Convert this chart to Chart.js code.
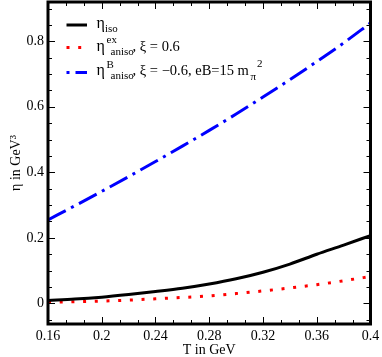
<!DOCTYPE html>
<html>
<head>
<meta charset="utf-8">
<script src="https://cdn.jsdelivr.net/npm/chart.js@4"></script>
<style>
  html, body { margin: 0; padding: 0; background: #fff; }
  canvas { display: block; }
</style>
</head>
<body>
<canvas id="miGrafico" width="382" height="357"></canvas>
<script>
// datos
var temperaturas = [0.16, 0.18, 0.20, 0.22, 0.24, 0.26, 0.28, 0.30, 0.32, 0.34, 0.36, 0.38, 0.40];
var etaIso = [0.009, 0.013, 0.019, 0.027, 0.036, 0.046, 0.059, 0.075, 0.095, 0.120, 0.150, 0.178, 0.207];
var etaEx = [0.003, 0.005, 0.007, 0.010, 0.014, 0.018, 0.023, 0.030, 0.038, 0.047, 0.057, 0.069, 0.082];
var etaB = [0.255, 0.298, 0.342, 0.387, 0.433, 0.480, 0.528, 0.578, 0.630, 0.683, 0.738, 0.795, 0.856];
var ticksX = [0.16, 0.2, 0.24, 0.28, 0.32, 0.36, 0.4];
var ticksY = [0, 0.2, 0.4, 0.6, 0.8];

var fuente = "'Liberation Serif', 'DejaVu Serif', serif";

function puntos(vals) {
    return temperaturas.map(function (t, i) { return { x: t, y: vals[i] }; });
}

function fmt(v) {
    return String(parseFloat(v.toFixed(2)));
}

// marco y marcas hacia adentro (estilo xmgrace)
var marco = {
    id: "marco",
    afterDatasetsDraw: function (chart) {
        var ctx = chart.ctx, a = chart.chartArea;
        var x = chart.scales.x, y = chart.scales.y;
        ctx.save();
        ctx.strokeStyle = "#000";
        ctx.lineWidth = 1;
        ctx.beginPath();
        for (var i = 0; i <= 18; i++) {
            var v = 0.16 + i * 0.04 / 3;
            var px = Math.round(x.getPixelForValue(v)) + 0.5;
            var len = (i % 3 === 0) ? 7 : 4;
            ctx.moveTo(px, a.bottom); ctx.lineTo(px, a.bottom - len);
            ctx.moveTo(px, a.top); ctx.lineTo(px, a.top + len);
        }
        for (var j = -1; j <= 18; j++) {
            var w = j * 0.05;
            var py = Math.round(y.getPixelForValue(w)) + 0.5;
            var l2 = (j % 4 === 0) ? 7 : 4;
            ctx.moveTo(a.left, py); ctx.lineTo(a.left + l2, py);
            ctx.moveTo(a.right, py); ctx.lineTo(a.right - l2, py);
        }
        ctx.stroke();
        ctx.lineWidth = 3;
        ctx.strokeRect(a.left, a.top, a.right - a.left, a.bottom - a.top);
        ctx.restore();
    }
};

// leyenda con subindices y superindices
var leyenda = {
    id: "leyenda",
    afterDraw: function (chart) {
        var ctx = chart.ctx;
        var sets = chart.data.datasets;
        var filas = [
            { y: 25, base: 27.5, sub: "iso", sup: null, resto: null },
            { y: 47.5, base: 50.8, sub: "aniso", sup: "ex", resto: ", \u03be = 0.6" },
            { y: 72.5, base: 75, sub: "aniso", sup: "B", resto: ", \u03be = \u22120.6, eB=15 m" }
        ];
        ctx.save();
        filas.forEach(function (f, k) {
            var ds = sets[k];
            ctx.strokeStyle = ds.borderColor;
            ctx.lineWidth = 3;
            ctx.lineCap = "butt";
            ctx.setLineDash(k === 2 ? [3, 6, 20, 6] : (ds.borderDash || []));
            ctx.beginPath();
            ctx.moveTo(66.5, f.y);
            ctx.lineTo(87, f.y);
            ctx.stroke();
            ctx.setLineDash([]);

            ctx.fillStyle = "#000";
            ctx.textBaseline = "alphabetic";
            ctx.font = "16px " + fuente;
            ctx.fillText("\u03b7", 96.5, f.base);
            ctx.font = "11px " + fuente;
            if (f.sup) {
                ctx.fillText(f.sup, 106.5, f.base - 7.5);
                ctx.fillText(f.sub, 110.5, f.base + 4);
            } else {
                ctx.fillText(f.sub, 105, f.base + 4);
            }
            if (f.resto) {
                ctx.font = "14.5px " + fuente;
                ctx.fillText(f.resto, 132.5, f.base);
                var fin = 132.5 + ctx.measureText(f.resto).width;
                if (k === 2) {
                    ctx.font = "11px " + fuente;
                    ctx.fillText("\u03c0", fin + 1.5, f.base + 4.5);
                    ctx.fillText("2", fin + 8, f.base - 8);
                }
            }
        });
        ctx.restore();
    }
};

var ctx = document.getElementById("miGrafico").getContext("2d");
var myChart = new Chart(ctx, {
    type: "line",
    data: {
        datasets: [
            {
                label: "eta iso",
                data: puntos(etaIso),
                borderColor: "#000000",
                borderWidth: 3,
                pointRadius: 0,
                cubicInterpolationMode: "monotone"
            },
            {
                label: "eta ex aniso",
                data: puntos(etaEx),
                borderColor: "#ff0000",
                borderWidth: 3,
                borderDash: [3, 8.7],
                pointRadius: 0,
                cubicInterpolationMode: "monotone"
            },
            {
                label: "eta B aniso",
                data: puntos(etaB),
                borderColor: "#0000ff",
                borderWidth: 3,
                borderDash: [20, 6, 3, 6],
                pointRadius: 0,
                cubicInterpolationMode: "monotone"
            }
        ]
    },
    options: {
        responsive: false,
        animation: false,
        devicePixelRatio: 1,
        layout: { padding: { left: 0, right: 11.5, top: 2, bottom: 0 } },
        plugins: {
            legend: { display: false },
            tooltip: { enabled: false }
        },
        scales: {
            x: {
                type: "linear",
                min: 0.16,
                max: 0.4,
                afterBuildTicks: function (s) { s.ticks = ticksX.map(function (v) { return { value: v }; }); },
                afterFit: function (s) { s.height = 33; s.paddingLeft = 0; s.paddingRight = 0; },
                grid: { display: false, drawTicks: false },
                border: { display: false },
                ticks: {
                    color: "#000",
                    font: { family: fuente, size: 14 },
                    padding: 4,
                    maxRotation: 0,
                    autoSkip: false,
                    callback: function (v) { return fmt(v); }
                },
                title: {
                    display: true,
                    text: "T in GeV",
                    color: "#000",
                    font: { family: fuente, size: 14, lineHeight: 1 },
                    padding: 0
                }
            },
            y: {
                min: -0.063,
                max: 0.92,
                afterBuildTicks: function (s) { s.ticks = ticksY.map(function (v) { return { value: v }; }); },
                afterFit: function (s) { s.width = 48; s.paddingTop = 0; s.paddingBottom = 0; },
                grid: { display: false, drawTicks: false },
                border: { display: false },
                ticks: {
                    color: "#000",
                    font: { family: fuente, size: 14 },
                    padding: 4,
                    autoSkip: false,
                    callback: function (v) { return fmt(v); }
                },
                title: {
                    display: true,
                    text: "\u03b7 in GeV\u00b3",
                    color: "#000",
                    font: { family: fuente, size: 14, lineHeight: 1 },
                    padding: { top: 9, bottom: 0 }
                }
            }
        }
    },
    plugins: [marco, leyenda]
});
</script>
</body>
</html>
